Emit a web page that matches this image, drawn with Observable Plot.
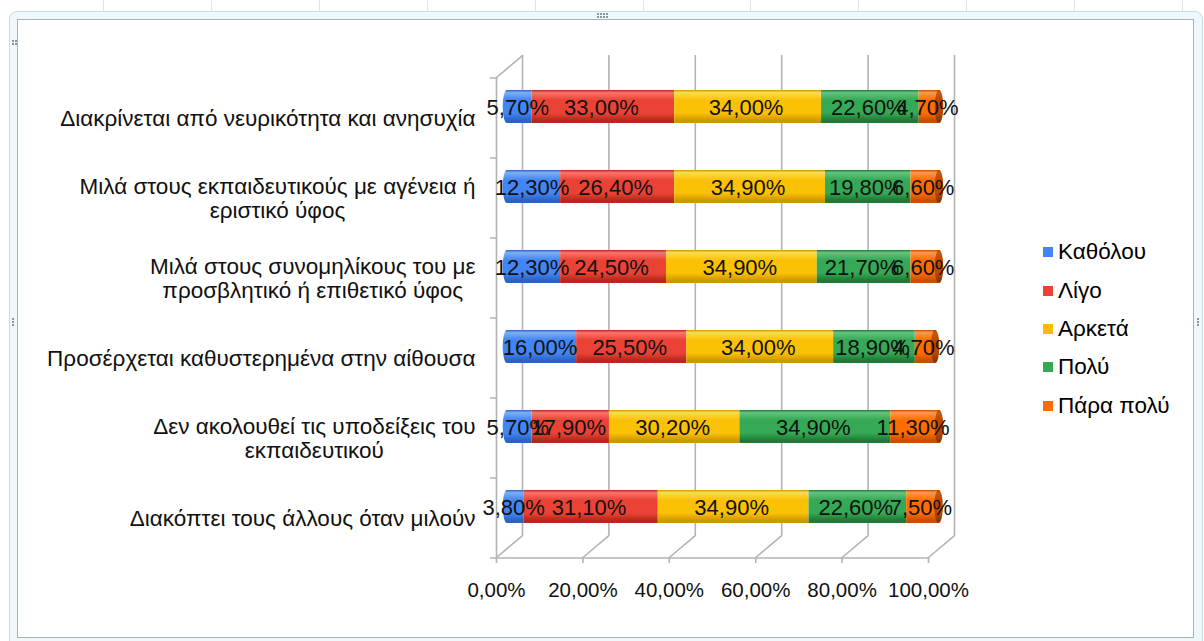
<!DOCTYPE html>
<html>
<head>
<meta charset="utf-8">
<script src="https://cdn.jsdelivr.net/npm/d3@7"></script>
<script src="https://cdn.jsdelivr.net/npm/@observablehq/plot@0.6"></script>
<style>
  html, body { margin: 0; padding: 0; background: #fff; }
  #wrap { position: relative; width: 1204px; height: 641px; overflow: hidden; font-family: "Liberation Sans", Arial, sans-serif; }
  .cell { position: absolute; width: 1px; background: #dfe4ea; }
  #outer { position: absolute; left: 9px; top: 11px; width: 1192px; height: 640px; border: 1px solid #c6dbe5; border-radius: 8px; background: #eef8fb; }
  #inner { position: absolute; left: 17px; top: 19px; width: 1175px; height: 617px; border: 1px solid #a7b2b9; background: #fff; }
  .grip { position: absolute; width: 2px; height: 2px; background: #8a969e; }
  #chart { position: absolute; left: 0; top: 0; }
  #legend { position: absolute; left: 1043px; top: 233px; font-size: 22.5px; color: #000; }
  #legend .row { height: 38.4px; display: flex; align-items: center; white-space: nowrap; }
  #legend .sw { width: 10px; height: 10px; margin-right: 5px; flex: none; }
</style>
</head>
<body>
<div id="wrap">
  <div id="cells"></div>
  <div id="outer"></div>
  <div id="inner"></div>
  <div id="grips"></div>
  <svg width="0" height="0" style="position:absolute">
    <defs id="gradients"></defs>
  </svg>
  <div id="chart"></div>
  <div id="legend"></div>
</div>
<script>
// Rows of the survey question and the five answer levels
const categories = [
  "Διακρίνεται από νευρικότητα και ανησυχία",
  "Μιλά στους εκπαιδευτικούς με αγένεια ή\nεριστικό ύφος",
  "Μιλά στους συνομηλίκους του με\nπροσβλητικό ή επιθετικό ύφος",
  "Προσέρχεται καθυστερημένα στην αίθουσα",
  "Δεν ακολουθεί τις υποδείξεις του\nεκπαιδευτικού",
  "Διακόπτει τους άλλους όταν μιλούν"
];
const series = ["Καθόλου", "Λίγο", "Αρκετά", "Πολύ", "Πάρα πολύ"];

// Percentages per answer level, one value per row (same order as categories)
const katholou = [5.7, 12.3, 12.3, 16.0, 5.7, 3.8];
const ligo     = [33.0, 26.4, 24.5, 25.5, 17.9, 31.1];
const arketa   = [34.0, 34.9, 34.9, 34.0, 30.2, 34.9];
const poly     = [22.6, 19.8, 21.7, 18.9, 34.9, 22.6];
const paraPoly = [4.7, 6.6, 6.6, 4.7, 11.3, 7.5];

const xTicks = [0, 20, 40, 60, 80, 100];

// Flat swatch colours and the cylinder shading (light, base, dark)
const baseColors = ["#4285f4", "#ea4335", "#fbbc04", "#34a853", "#ff6d01"];
const shade = [
  ["#7eaefc", "#4285f4", "#2c62c4"],
  ["#f7776b", "#ea4335", "#b3291d"],
  ["#ffdc55", "#fbc104", "#cf9700"],
  ["#64c47e", "#35a955", "#1f7a36"],
  ["#ff9a45", "#ff6d01", "#c84f00"]
];
const capShade = ["#d35800", "#b84800", "#8f3600"];

const valuesBySeries = [katholou, ligo, arketa, poly, paraPoly];
const rows = [];
categories.forEach((c, i) => {
  series.forEach((s, k) => rows.push({cat: c, series: s, value: valuesBySeries[k][i]}));
});
const totals = categories.map((c, i) => ({cat: c, total: d3.sum(valuesBySeries, v => v[i])}));

const fmt = v => v.toFixed(2).replace(".", ",") + "%";

// Vertical gradients that give each bar segment a cylindrical look
const defs = d3.select("#gradients");
function gradient(id, [light, base, dark]) {
  const g = defs.append("linearGradient").attr("id", id)
    .attr("x1", 0).attr("y1", 0).attr("x2", 0).attr("y2", 1);
  [[0, dark], [0.08, light], [0.3, base], [0.7, base], [0.92, dark], [1, dark]]
    .forEach(([o, c]) => g.append("stop").attr("offset", o).attr("stop-color", c));
}
shade.forEach((s, k) => gradient("cyl" + k, s));
gradient("cylCap", capShade);
const gradUrls = shade.map((s, k) => `url(#cyl${k})`);

// Depth of the 3-D box (back wall offset) and of the bars (mid depth)
const backDx = 26, backDy = -22;
const barDx = 11, barDy = -11;
const gridColor = "#b3b3b3";
const capHalf = 1.0; // half width of the elliptical end caps, in percent units
const labelSize = 22.5;

// Category labels: lines centred within a block that ends just left of the axis
const ctx = document.createElement("canvas").getContext("2d");
ctx.font = `${labelSize}px "Liberation Sans"`;
const labelMarks = categories.map(c => {
  const w = d3.max(c.split("\n"), l => ctx.measureText(l).width);
  return Plot.text([c], {
    x: () => 0, y: d => d, text: d => d,
    textAnchor: "middle", dx: -(21 + w / 2),
    lineHeight: 1.07, fontSize: labelSize, fill: "#111"
  });
});

const chart = Plot.plot({
  width: 1204,
  height: 641,
  marginLeft: 496,
  marginRight: 276,
  marginTop: 77,
  marginBottom: 84,
  x: {domain: [0, 100], axis: null},
  y: {domain: categories, paddingInner: 0.5875, paddingOuter: 0.29375, axis: null},
  color: {domain: series, range: gradUrls},
  style: {background: "transparent", overflow: "visible", fontFamily: '"Liberation Sans", Arial, sans-serif', color: "#000"},
  marks: [
    // back wall gridlines
    Plot.ruleX(xTicks, {x: d => d, dx: backDx, dy: backDy, stroke: gridColor, strokeWidth: 1.6}),
    // floor lines running from the back wall to the front axis
    Plot.vector(xTicks, {x: d => d, frameAnchor: "bottom", length: 34, rotate: 49.8, anchor: "start", r: 0, stroke: gridColor, strokeWidth: 1.6}),
    // left wall
    Plot.ruleX([0], {x: d => d, stroke: gridColor, strokeWidth: 1.6}),
    Plot.vector([0], {x: d => d, frameAnchor: "top", length: 34, rotate: 49.8, anchor: "start", r: 0, stroke: gridColor, strokeWidth: 1.6}),
    Plot.vector(categories, {x: () => 0, y: d => d, dy: -40, length: 6, rotate: -90, anchor: "start", r: 0, stroke: gridColor, strokeWidth: 1.6}),
    Plot.vector(categories.slice(-1), {x: () => 0, y: d => d, dy: 40, length: 6, rotate: -90, anchor: "start", r: 0, stroke: gridColor, strokeWidth: 1.6}),
    // front edge of the floor
    Plot.ruleY(categories.slice(-1), {y: d => d, x1: 0, x2: 100, dy: 40, stroke: gridColor, strokeWidth: 1.6}),
    // rounded left ends of the cylinders
    Plot.barX(categories, {y: d => d, x1: -capHalf, x2: capHalf, rx: 4.5, ry: 16.5, fill: gradUrls[0], dx: barDx, dy: barDy}),
    // stacked segments
    Plot.barX(rows, Plot.stackX({y: "cat", x: "value", z: "series", fill: "series", dx: barDx, dy: barDy})),
    // end faces of the cylinders
    Plot.barX(totals, {y: "cat", x1: d => d.total - capHalf, x2: d => d.total + capHalf, rx: 4.5, ry: 16.5, fill: "url(#cylCap)", dx: barDx, dy: barDy}),
    // value labels
    Plot.text(rows, Plot.stackX({y: "cat", x: "value", z: "series", text: d => fmt(d.value), dx: barDx - 2, dy: barDy + 1, fontSize: 22, fill: "#111"})),
    ...labelMarks,
    Plot.axisX(xTicks, {tickSize: 6, tickPadding: 19, tickFormat: fmt, fontSize: 20.5, stroke: gridColor, strokeWidth: 1.6, label: null, fill: "#111"})
  ]
});
document.getElementById("chart").append(chart);

// Legend
const legend = d3.select("#legend");
series.forEach((s, k) => {
  const row = legend.append("div").attr("class", "row");
  row.append("div").attr("class", "sw").style("background", baseColors[k]);
  row.append("span").text(s);
});

// Spreadsheet cell borders around the chart object, and its resize grips
const cells = d3.select("#cells");
d3.range(103, 1204, 107.9).forEach(x => cells.append("div").attr("class", "cell").style("left", Math.round(x) + "px").style("top", "0px").style("height", "641px"));
const grips = d3.select("#grips");
[[597, 13], [600, 13], [603, 13], [606, 13], [597, 16], [600, 16], [603, 16], [606, 16],
 [12, 318], [12, 321], [12, 324], [1197, 318], [1197, 321], [1197, 324],
 [12, 40], [15, 40], [12, 43], [15, 43]]
  .forEach(([x, y]) => grips.append("div").attr("class", "grip").style("left", x + "px").style("top", y + "px"));
</script>
</body>
</html>
